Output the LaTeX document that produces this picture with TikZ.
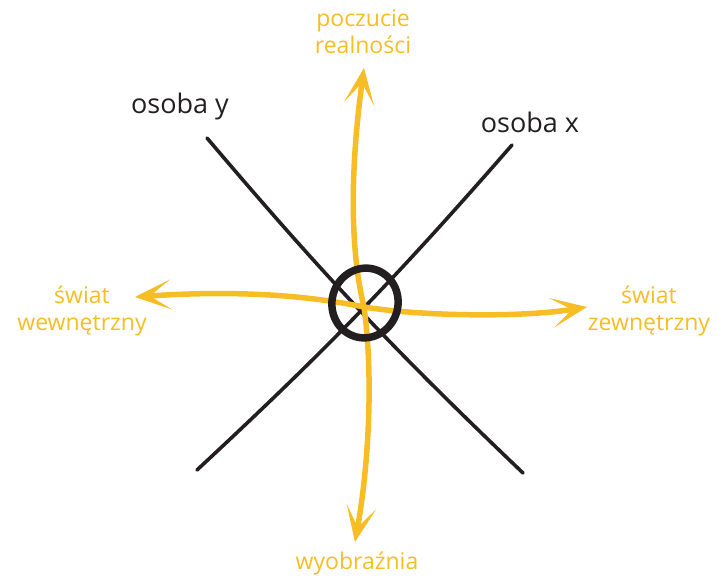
\documentclass[tikz,border=0pt]{standalone}
\usepackage{fontspec}
\setmainfont{Open Sans}
\usetikzlibrary{arrows.meta, shapes.geometric}
\definecolor{ink}{HTML}{231F20}
\definecolor{amber}{HTML}{F7BD24}
\tikzset{
  os/.style = {draw=ink, line width=3.6pt, line cap=round},
  ax/.style = {draw=amber, line width=5.5pt, line cap=round,
    arrows={Stealth[length=36pt, width=30pt, inset=21pt]-Stealth[length=36pt, width=30pt, inset=21pt]}},
  lab/.style = {text=amber, font=\fontsize{23}{27}\selectfont, align=center},
  olab/.style = {text=ink, font=\fontsize{27}{30}\selectfont},
  ring/.style = {ellipse, draw=ink, line width=7.5pt, minimum width=66pt,
    minimum height=70pt, inner sep=0pt, rotate=-15}
}

\begin{document}
\begin{tikzpicture}[x=1pt, y=-1pt]
  \useasboundingbox (0,0) rectangle (721,588);

  % punkty
  \coordinate (yA) at (207,138);
  \coordinate (yB) at (523,473);
  \coordinate (xA) at (512,145);
  \coordinate (xB) at (197,470);
  \coordinate (top) at (364,68);
  \coordinate (bot) at (355,542);
  \coordinate (lft) at (135,297);
  \coordinate (rgt) at (587,307);
  \coordinate (mid) at (364,307);

  % osoby
  \draw [os] (yA) to[bend right=3] (yB);
  \draw [os] (xA) to[bend left=3] (xB);

  % osie
  \draw [ax] (top) .. controls (350,170) and (350,250) .. (mid)
    .. controls (374,380) and (368,470) .. (bot);
  \draw [ax] (lft) .. controls (250,289) and (320,298) .. (mid)
    .. controls (420,316) and (520,318) .. (rgt);

  \node [ring] (ring) at (365,303) {};

  % opisy
  \node [lab] (real) at (363,32) {poczucie\\realności};
  \node [lab] (inner) at (82,311) {świat\\wewnętrzny};
  \node [lab] (outer) at (649,311) {świat\\zewnętrzny};
  \node [lab] (imag) at (357,563) {wyobraźnia};
  \node [olab] (persy) at (180,106) {osoba y};
  \node [olab] (persx) at (530,122) {osoba x};
\end{tikzpicture}
\end{document}
